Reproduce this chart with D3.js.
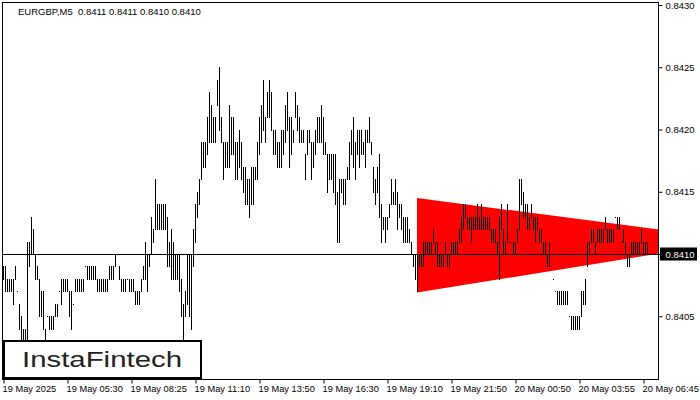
<!DOCTYPE html>
<html>
<head>
<meta charset="utf-8">
<script src="https://cdn.jsdelivr.net/npm/d3@7"></script>
<style>
  html, body { margin: 0; padding: 0; background: #fff; }
  svg { display: block; }
  text { font-family: "Liberation Sans", Arial, sans-serif; }
</style>
</head>
<body>
<svg id="chart" width="700" height="400"></svg>
<script>
// ---- DATA (EURGBP M5 bar highs / lows) ----
const highs = [
0.8409,0.8409,0.8408,0.8408,0.8408,0.8408,0.8409,0.8407,0.8406,0.8405,0.8404,0.8404,0.8411,0.8411,0.8413,0.8412,0.8410,0.8409,0.8408,0.8407,0.8407,0.8404,0.8405,0.8405,0.8405,0.8405,0.8406,0.8406,0.8407,0.8408,0.8408,0.8408,0.8408,0.8407,0.8407,0.8406,0.8408,0.8408,0.8408,0.8408,0.8408,0.8409,0.8409,0.8409,0.8409,0.8409,0.8409,0.8408,0.8408,0.8408,0.8408,0.8408,0.8408,0.8409,
0.8409,0.8409,0.8410,0.8410,0.8409,0.8408,0.8408,0.8408,0.8408,0.8408,0.8408,0.8408,0.8407,0.8407,0.8407,0.8408,0.8409,0.8411,0.8410,0.8410,0.8413,0.8412,0.8416,0.8414,0.8414,0.8414,0.8414,0.8414,0.8413,0.8411,0.8412,0.8411,0.8410,0.8410,0.8410,0.8408,0.8406,0.8407,0.8410,0.8410,0.8410,0.8412,0.8414,0.8415,0.8416,0.8419,0.8419,0.8419,0.8421,0.8423,0.8422,0.8421,0.8421,0.8424,0.8425,
0.8421,0.8419,0.8419,0.8419,0.8422,0.8421,0.8421,0.8419,0.8419,0.8420,0.8419,0.8417,0.8417,0.8416,0.8416,0.8417,0.8417,0.8417,0.8419,0.8421,0.8422,0.8424,0.8421,0.8423,0.8424,0.8423,0.8420,0.8420,0.8419,0.8419,0.8420,0.8420,0.8422,0.8423,0.8421,0.8421,0.8420,0.8423,0.8422,0.8421,0.8420,0.8420,0.8418,0.8420,0.8420,0.8419,0.8419,0.8420,0.8421,0.8421,0.8422,0.8421,0.8419,0.8418,0.8418,
0.8418,0.8418,0.8418,0.8415,0.8416,0.8416,0.8416,0.8416,0.8417,0.8419,0.8420,0.8421,0.8419,0.8420,0.8420,0.8420,0.8419,0.8420,0.8420,0.8421,0.8419,0.8417,0.8416,0.8417,0.8418,0.8414,0.8413,0.8413,0.8413,0.8414,0.8416,0.8415,0.8416,0.8415,0.8414,0.8414,0.8413,0.8413,0.8413,0.8412,0.8411,0.8410,0.8410,0.8410,0.8410,0.8410,0.8411,0.8411,0.8411,0.8411,0.8411,0.8412,0.8411,0.8411,0.8410,
0.8410,0.8410,0.8411,0.8410,0.8410,0.8411,0.8411,0.8411,0.8411,0.8412,0.8413,0.8414,0.8414,0.8413,0.8413,0.8413,0.8413,0.8413,0.8414,0.8413,0.8414,0.8413,0.8413,0.8413,0.8413,0.8412,0.8412,0.8412,0.8411,0.8413,0.8414,0.8412,0.8411,0.8414,0.8411,0.8411,0.8411,0.8411,0.8412,0.8416,0.8416,0.8415,0.8414,0.8414,0.8413,0.8414,0.8413,0.8413,0.8413,0.8412,0.8412,0.8411,0.8411,0.8410,0.8411,
0.8409,0.8408,0.8407,0.8407,0.8407,0.8407,0.8407,0.8407,0.8407,0.8405,0.8405,0.8405,0.8405,0.8405,0.8405,0.8407,0.8407,0.8408,0.8411,0.8411,0.8412,0.8412,0.8411,0.8412,0.8412,0.8412,0.8412,0.8413,0.8412,0.8412,0.8412,0.8412,0.8413,0.8413,0.8413,0.8411,0.8412,0.8411,0.8410,0.8410,0.8411,0.8411,0.8411,0.8411,0.8411,0.8412,0.8411,0.8411,0.8411
];
const lows = [
0.8408,0.8407,0.8407,0.8407,0.8407,0.8406,0.8408,0.8407,0.8404,0.8403,0.8403,0.8403,0.8403,0.8409,0.8410,0.8410,0.8408,0.8408,0.8405,0.8405,0.8404,0.8403,0.8405,0.8404,0.8404,0.8404,0.8405,0.8405,0.8407,0.8406,0.8407,0.8407,0.8407,0.8405,0.8404,0.8406,0.8407,0.8407,0.8407,0.8407,0.8407,0.8409,0.8408,0.8408,0.8408,0.8408,0.8408,0.8407,0.8407,0.8407,0.8407,0.8407,0.8407,0.8408,
0.8408,0.8408,0.8409,0.8410,0.8408,0.8407,0.8407,0.8407,0.8408,0.8407,0.8407,0.8407,0.8406,0.8406,0.8406,0.8407,0.8408,0.8408,0.8407,0.8409,0.8410,0.8411,0.8412,0.8412,0.8412,0.8412,0.8412,0.8412,0.8409,0.8409,0.8408,0.8408,0.8408,0.8408,0.8407,0.8405,0.8403,0.8405,0.8406,0.8405,0.8404,0.8409,0.8411,0.8413,0.8414,0.8416,0.8417,0.8417,0.8418,0.8419,0.8419,0.8419,0.8419,0.8422,0.8420,
0.8419,0.8416,0.8417,0.8417,0.8417,0.8418,0.8418,0.8416,0.8416,0.8417,0.8416,0.8415,0.8414,0.8414,0.8413,0.8414,0.8414,0.8416,0.8416,0.8418,0.8419,0.8420,0.8419,0.8421,0.8421,0.8420,0.8418,0.8418,0.8417,0.8417,0.8417,0.8418,0.8419,0.8420,0.8417,0.8418,0.8419,0.8421,0.8420,0.8419,0.8419,0.8419,0.8416,0.8418,0.8419,0.8416,0.8417,0.8418,0.8419,0.8419,0.8419,0.8418,0.8418,0.8415,0.8416,
0.8416,0.8415,0.8414,0.8411,0.8411,0.8415,0.8414,0.8414,0.8416,0.8416,0.8418,0.8417,0.8416,0.8418,0.8417,0.8418,0.8418,0.8417,0.8419,0.8419,0.8418,0.8415,0.8414,0.8415,0.8413,0.8411,0.8412,0.8411,0.8412,0.8413,0.8414,0.8414,0.8414,0.8412,0.8413,0.8412,0.8411,0.8411,0.8411,0.8411,0.8410,0.8409,0.8408,0.8407,0.8409,0.8409,0.8409,0.8410,0.8410,0.8410,0.8410,0.8411,0.8410,0.8409,0.8409,
0.8409,0.8409,0.8410,0.8409,0.8409,0.8410,0.8410,0.8410,0.8410,0.8411,0.8411,0.8412,0.8413,0.8412,0.8412,0.8411,0.8412,0.8412,0.8412,0.8412,0.8412,0.8412,0.8412,0.8412,0.8412,0.8411,0.8411,0.8411,0.8410,0.8408,0.8412,0.8410,0.8410,0.8411,0.8411,0.8411,0.8410,0.8410,0.8411,0.8412,0.8414,0.8413,0.8413,0.8412,0.8412,0.8413,0.8412,0.8411,0.8412,0.8411,0.8411,0.8410,0.8410,0.8409,0.8409,
0.8409,0.8408,0.8407,0.8406,0.8406,0.8406,0.8406,0.8406,0.8406,0.8405,0.8404,0.8404,0.8404,0.8404,0.8404,0.8405,0.8406,0.8406,0.8409,0.8410,0.8411,0.8411,0.8410,0.8411,0.8411,0.8411,0.8411,0.8412,0.8411,0.8411,0.8411,0.8411,0.8413,0.8412,0.8412,0.8411,0.8411,0.8410,0.8409,0.8409,0.8410,0.8410,0.8410,0.8410,0.8410,0.8411,0.8410,0.8410,0.8410
];
const xTickIndex = [0, 32, 64, 96, 128, 160, 192, 224, 256, 288, 320];
const xTickLabels = ["19 May 2025","19 May 05:30","19 May 08:25","19 May 11:10","19 May 13:50","19 May 16:30","19 May 19:10","19 May 21:50","20 May 00:50","20 May 03:55","20 May 06:45"];
const yTickValues = [0.8405, 0.8410, 0.8415, 0.8420, 0.8425, 0.8430];
const symbolName = "EURGBP,M5";
const lastOHLC = [0.8411, 0.8411, 0.8410, 0.8410];
const currentPrice = 0.8410;
const triangleIndex = [207, 207, 369];
const trianglePrice = [0.84145, 0.84069, 0.84111];
const brandName = "InstaFintech";

// ---- LAYOUT ----
const W = 700, H = 400;
const plot = { left: 2.5, right: 658.5, top: 2.5, bottom: 379.5 };
const svg = d3.select("#chart");
svg.append("rect").attr("width", W).attr("height", H).attr("fill", "#fff");

const x = d3.scaleLinear().domain([0, 320]).range([3, 643]);
const y = d3.scaleLinear().domain([0.8400, 0.8430]).range([378.5, 5]);

svg.append("defs").append("clipPath").attr("id", "plotclip")
  .append("rect").attr("x", plot.left).attr("y", plot.top)
  .attr("width", plot.right - plot.left).attr("height", plot.bottom - plot.top);

const g = svg.append("g").attr("clip-path", "url(#plotclip)");

// triangle pattern
g.append("polygon")
  .attr("points", triangleIndex.map((d, i) => [x(d), y(trianglePrice[i])].join(",")).join(" "))
  .attr("fill", "#ff0000");

// current price line
g.append("line")
  .attr("x1", plot.left).attr("x2", plot.right)
  .attr("y1", Math.round(y(currentPrice)) + 0.5).attr("y2", Math.round(y(currentPrice)) + 0.5)
  .attr("stroke", "#000").attr("stroke-width", 1);

// bars
const bars = highs.map((h, i) => ({ i, h, l: lows[i] }));
g.selectAll("rect.bar").data(bars).enter().append("rect")
  .attr("class", "bar")
  .attr("x", d => x(d.i))
  .attr("y", d => Math.round(y(d.h)))
  .attr("width", 1)
  .attr("height", d => Math.round(y(d.l)) - Math.round(y(d.h)) + 1)
  .attr("fill", "#000");

// frame
svg.append("rect")
  .attr("x", plot.left).attr("y", plot.top)
  .attr("width", plot.right - plot.left).attr("height", plot.bottom - plot.top)
  .attr("fill", "none").attr("stroke", "#000").attr("stroke-width", 1);

// y axis (right)
const yAxis = d3.axisRight(y).tickValues(yTickValues).tickSize(4).tickPadding(3)
  .tickFormat(d3.format(".4f"));
const ya = svg.append("g").attr("transform", `translate(${plot.right},0)`).call(yAxis);
ya.select(".domain").remove();
ya.selectAll("text").attr("font-size", "9.5px").attr("fill", "#000")
  .attr("font-family", "Liberation Sans, Arial, sans-serif");
ya.selectAll("line").attr("stroke", "#000");

// current price label
const cpY = Math.round(y(currentPrice)) + 0.5;
svg.append("rect").attr("x", 660).attr("y", cpY - 7).attr("width", 37).attr("height", 13).attr("fill", "#000");
svg.append("text").attr("x", 665.5).attr("y", cpY).attr("dy", "0.32em")
  .attr("font-size", "9.5px").attr("fill", "#fff").text(d3.format(".4f")(currentPrice));

// x axis (bottom)
const xAxis = d3.axisBottom(x).tickValues(xTickIndex).tickSize(4).tickPadding(2)
  .tickFormat((d, i) => xTickLabels[i]);
const xa = svg.append("g").attr("transform", `translate(0.5,${plot.bottom})`).call(xAxis);
xa.select(".domain").remove();
xa.selectAll("line").attr("stroke", "#000");
xa.selectAll("text").attr("text-anchor", "start").attr("x", -1.5).attr("font-size", "9.3px")
  .attr("fill", "#000").attr("font-family", "Liberation Sans, Arial, sans-serif");

// header
svg.append("text").attr("x", 18).attr("y", 15).attr("font-size", "9.5px").attr("fill", "#000")
  .attr("xml:space", "preserve")
  .text(symbolName + "  " + lastOHLC.map(d3.format(".4f")).join(" "));

// brand box
svg.append("rect").attr("x", 4).attr("y", 341).attr("width", 197).attr("height", 37)
  .attr("fill", "#fff").attr("stroke", "#000").attr("stroke-width", 2);
svg.append("text").attr("x", 22).attr("y", 367).attr("font-size", "22px")
  .attr("font-family", "Inter, 'Open Sans', sans-serif").attr("font-weight", 500)
  .attr("fill", "#222").attr("textLength", 160).attr("lengthAdjust", "spacingAndGlyphs")
  .text(brandName);
</script>
</body>
</html>
